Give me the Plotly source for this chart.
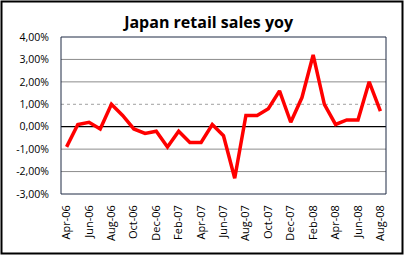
import plotly.graph_objects as go

months = ["Apr-06","May-06","Jun-06","Jul-06","Aug-06","Sep-06","Oct-06","Nov-06","Dec-06",
          "Jan-07","Feb-07","Mar-07","Apr-07","May-07","Jun-07","Jul-07","Aug-07","Sep-07",
          "Oct-07","Nov-07","Dec-07","Jan-08","Feb-08","Mar-08","Apr-08","May-08","Jun-08",
          "Jul-08","Aug-08"]
yoy = [-0.9,0.1,0.2,-0.1,1.0,0.5,-0.1,-0.3,-0.2,-0.9,-0.2,-0.7,-0.7,0.1,-0.4,-2.3,0.5,0.5,
       0.8,1.6,0.2,1.3,3.2,1.0,0.1,0.3,0.3,2.0,0.7]
y_ticks = [4,3,2,1,0,-1,-2,-3]
y_labels = ["4,00%","3,00%","2,00%","1,00%","0,00%","-1,00%","-2,00%","-3,00%"]
x_ticks = months[::2]

W, H = 405, 256
L, R, T, B = 61, 19, 37, 62
pw, ph = W - L - R, H - T - B

fig = go.Figure()
fig.add_trace(go.Scatter(x=months, y=yoy, mode="lines",
                         line=dict(color="#ff0000", width=3.5)))

shapes = []
for v in [3, 2, -1, -2]:
    shapes.append(dict(type="line", xref="paper", yref="y", x0=0, x1=1, y0=v, y1=v,
                       line=dict(color="#8c8c8c", width=1), layer="below"))
shapes.append(dict(type="line", xref="paper", yref="y", x0=0, x1=1, y0=1, y1=1,
                   line=dict(color="#a0a0a0", width=1, dash="dot"), layer="below"))
shapes.append(dict(type="line", xref="paper", yref="y", x0=0, x1=1, y0=0, y1=0,
                   line=dict(color="#000000", width=1.2), layer="below"))
shapes.append(dict(type="rect", xref="paper", yref="paper", x0=0, x1=1, y0=0, y1=1,
                   line=dict(color="#1f2a44", width=1)))
# outer chart border
shapes.append(dict(type="rect", xref="paper", yref="paper",
                   x0=(1.5 - L) / pw, x1=(W - 2.5 - L) / pw,
                   y0=-(H - 2.5 - T - ph) / ph, y1=1 + (T - 1.5) / ph,
                   line=dict(color="#000000", width=2)))

fig.update_layout(
    width=W, height=H, margin=dict(l=L, r=R, t=T, b=B),
    paper_bgcolor="white", plot_bgcolor="white", showlegend=False,
    font=dict(family="Open Sans, Liberation Sans, sans-serif", color="#000000", size=10),
    title=dict(text="<b>Japan retail sales yoy</b>", x=0.515, xanchor="center",
               y=1 - 22 / H, yanchor="middle",
               font=dict(family="Open Sans, Liberation Sans, sans-serif", size=16, color="#000")),
    xaxis=dict(type="category", tickmode="array", tickvals=x_ticks, ticktext=x_ticks,
               tickangle=-90, showgrid=False, zeroline=False, showline=False,
               ticks="", ticklabelstandoff=8, range=[-0.5, len(months) - 0.5],
               tickfont=dict(size=11)),
    yaxis=dict(range=[-3, 4], tickmode="array", tickvals=y_ticks, ticktext=y_labels,
               showgrid=False, zeroline=False, showline=False, ticks="",
               ticklabelstandoff=11, tickfont=dict(size=10.5)),
    shapes=shapes,
)
fig.write_html("out.html")
